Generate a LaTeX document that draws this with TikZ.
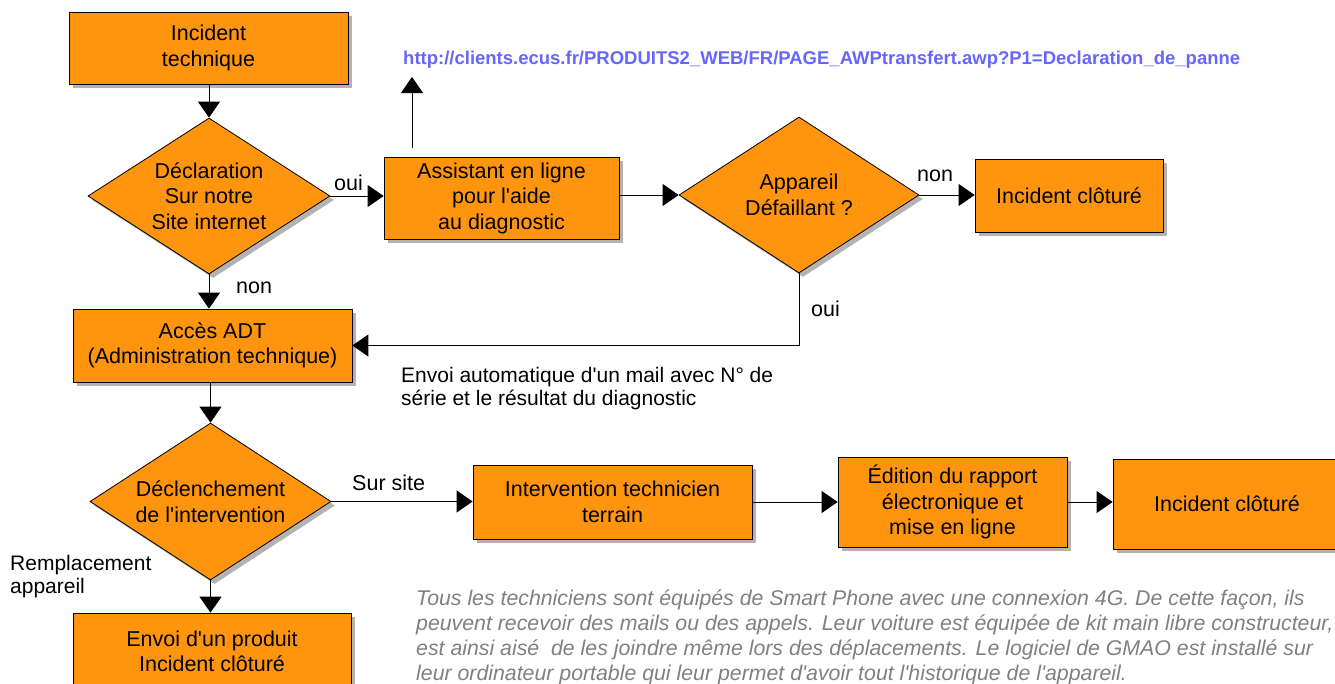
\documentclass[tikz,border=0pt]{standalone}
\usepackage{fontspec}
\setmainfont{Liberation Sans}
\usetikzlibrary{shapes.geometric,arrows.meta,shadows}
\definecolor{boxorange}{HTML}{FF950E}
\definecolor{urlblue}{HTML}{6666FF}
\definecolor{notegray}{HTML}{808080}
\definecolor{shadowgray}{HTML}{B3B3B3}
\newcommand{\apos}{\textquotesingle}
\begin{document}
\begin{tikzpicture}[x=1pt,y=-1pt,
  font=\fontsize{21.5}{25.5}\selectfont,
  shad/.style={drop shadow={shadow xshift=4pt,shadow yshift=-4pt,fill=shadowgray,opacity=1}},
  procbox/.style={rectangle,draw=black,line width=0.8pt,fill=boxorange,inner sep=0pt,align=center,shad},
  decbox/.style={diamond,draw=black,line width=0.8pt,fill=boxorange,inner sep=0pt,shad},
  dectext/.style={align=center,inner sep=0pt},
  arr/.style={line width=0.9pt,-{Triangle[length=16pt,width=22pt]}},
  lbl/.style={inner sep=0pt},
]
\useasboundingbox (0,0) rectangle (1335,683);

% nodes
\node[procbox,minimum width=279pt,minimum height=72pt] (inc1) at (208.5,48) {Incident\\technique};
\node[decbox,minimum width=242pt,minimum height=156pt] (dec1) at (209,196) {};
\node[dectext] at (dec1) {Déclaration\\Sur notre\\Site internet};
\node[procbox,minimum width=235pt,minimum height=82pt] (assist) at (501.5,198) {Assistant en ligne\\pour l\apos aide\\au diagnostic};
\node[decbox,minimum width=240pt,minimum height=156pt] (dec2) at (799,195) {};
\node[dectext] at (dec2) {Appareil\\Défaillant ?};
\node[procbox,minimum width=188pt,minimum height=73pt] (inc2) at (1069,195.5) {Incident clôturé};
\node[procbox,minimum width=279pt,minimum height=73pt] (acces) at (212.5,345.5) {Accès ADT\\(Administration technique)};
\node[decbox,minimum width=241pt,minimum height=157pt] (dec3) at (210.5,501.5) {};
\node[dectext] at (dec3) {Déclenchement\\de l\apos intervention};
\node[procbox,minimum width=279pt,minimum height=74pt] (inter) at (612.5,502) {Intervention technicien\\terrain};
\node[procbox,minimum width=229pt,minimum height=90pt] (edit) at (952.5,502) {Édition du rapport\\électronique et\\mise en ligne};
\node[procbox,minimum width=228pt,minimum height=90pt] (inc3) at (1227,504) {Incident clôturé};
\node[procbox,minimum width=278pt,minimum height=77pt] (envoi) at (212,651.5) {Envoi d\apos un produit\\Incident clôturé};

% texts
\node[lbl,anchor=west,font=\fontsize{18.5}{22}\selectfont\bfseries,text=urlblue] (url) at (403,60) {http://clients.ecus.fr/PRODUITS2\_WEB/FR/PAGE\_AWPtransfert.awp?P1=Declaration\_de\_panne};
\node[lbl,anchor=west] (oui1) at (334,183) {oui};
\node[lbl,anchor=west] (non1) at (236,288) {non};
\node[lbl,anchor=west] (non2) at (917,176) {non};
\node[lbl,anchor=west] (oui2) at (811,309) {oui};
\node[lbl,anchor=west] (sursite) at (352,483) {Sur site};
\node[lbl,anchor=west,align=left,font=\fontsize{21}{23.5}\selectfont] (mail) at (401,388.5) {Envoi automatique d\apos un mail avec N° de\\série et le résultat du diagnostic};
\node[lbl,anchor=west,align=left,font=\fontsize{21}{23}\selectfont] (rempl) at (10,576.5) {Remplacement\\appareil};
\node[lbl,anchor=west,align=left,text=notegray,font=\fontsize{21.3}{25}\selectfont\itshape] (note) at (416,637.5) {Tous les techniciens sont équipés de Smart Phone avec une connexion 4G. De cette façon, ils\\peuvent recevoir des mails ou des appels. Leur voiture est équipée de kit main libre constructeur,\\est ainsi aisé~ de les joindre même lors des déplacements. Le logiciel de GMAO est installé sur\\leur ordinateur portable qui leur permet d\apos avoir tout l\apos historique de l\apos appareil.};

% connectors
\coordinate (urltip) at (412,77);
\coordinate (urlbase) at (412,148);
\draw[arr] (inc1.south -| dec1.north) -- (dec1.north);
\draw[arr] (dec1.east) -- (dec1.east -| assist.west);
\draw[arr] (urlbase) -- (urltip);
\draw[arr] (assist.east |- dec2.west) -- (dec2.west);
\draw[arr] (dec2.east) -- (dec2.east -| inc2.west);
\draw[arr] (dec2.south) -- (dec2.south |- acces.east) -- (acces.east);
\draw[arr] (dec1.south) -- (dec1.south |- acces.north);
\draw[arr] (acces.south -| dec3.north) -- (dec3.north);
\draw[arr] (dec3.east) -- (dec3.east -| inter.west);
\draw[arr] (inter.east) -- (inter.east -| edit.west);
\draw[arr] (edit.east) -- (edit.east -| inc3.west);
\draw[arr] (dec3.south) -- (dec3.south |- envoi.north);
\end{tikzpicture}
\end{document}
